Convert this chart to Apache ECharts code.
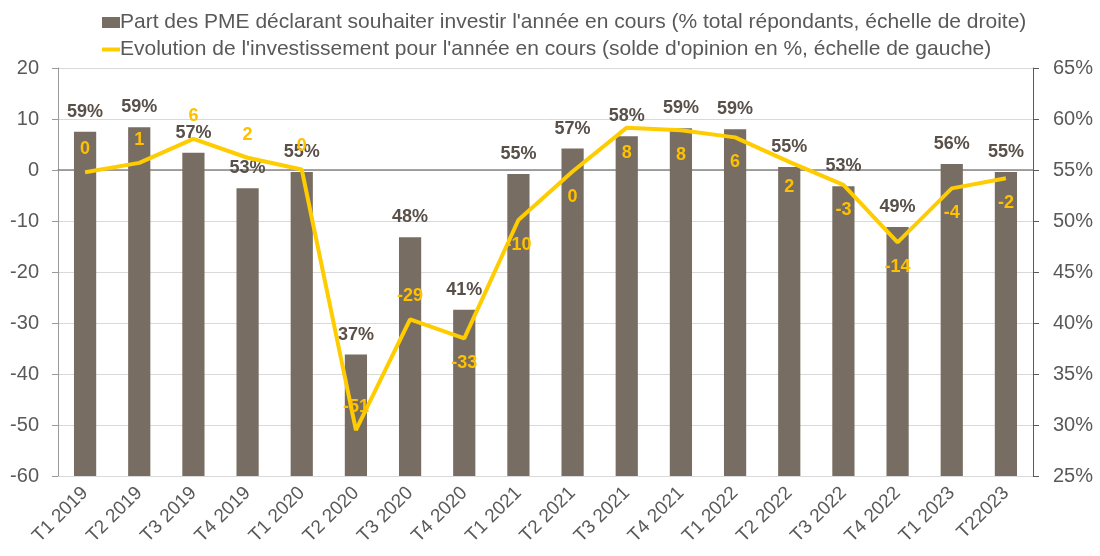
<!DOCTYPE html>
<html>
<head>
<meta charset="utf-8">
<script src="https://cdn.jsdelivr.net/npm/echarts@6/dist/echarts.min.js"></script>
<style>
  html, body { margin: 0; padding: 0; background: #fff; }
  .box { width: 1100px; height: 556px; }
</style>
</head>
<body>
<div class="box"></div>
<script>
// categories (trimestres)
var categories = ['T1 2019', 'T2 2019', 'T3 2019', 'T4 2019', 'T1 2020', 'T2 2020', 'T3 2020', 'T4 2020',
  'T1 2021', 'T2 2021', 'T3 2021', 'T4 2021', 'T1 2022', 'T2 2022', 'T3 2022', 'T4 2022', 'T1 2023', 'T22023'];
// part des PME (% , échelle de droite)
var partPME = [58.75, 59.2, 56.7, 53.2, 54.8, 36.9, 48.4, 41.3, 54.6, 57.1, 58.3, 59.1, 59.0, 55.3, 53.4, 49.4, 55.6, 54.8];
// solde d'opinion (%, échelle de gauche)
var solde = [-0.45, 1.4, 6.1, 2.4, 0.1, -51, -29.3, -33, -9.8, -0.3, 8.3, 7.8, 6.4, 1.6, -2.9, -14.2, -3.6, -1.6];

var leftTicks = { min: -60, max: 20, interval: 10 };
var rightTicks = { min: 25, max: 65, interval: 5 };

var barName = "Part des PME déclarant souhaiter investir l'année en cours (% total répondants, échelle de droite)";
var lineName = "Evolution de l'investissement pour l'année en cours (solde d'opinion en %, échelle de gauche)";

var fontFam = '"Liberation Sans", Arial, sans-serif';

var mychart = echarts.init(document.querySelector('.box'));

// étiquettes de la courbe : au-dessus pour les 7 premiers points, en dessous ensuite
var soldeData = solde.map(function (v, i) {
  return {
    value: v,
    label: { position: i < 7 ? 'top' : 'bottom', distance: i < 7 ? 14 : 16 }
  };
});

var option = {
  animation: false,
  textStyle: { fontFamily: fontFam },
  legend: {
    orient: 'vertical',
    left: 97,
    top: 7,
    itemGap: 6,
    itemWidth: 18,
    itemHeight: 11,
    symbolKeepAspect: true,
    textStyle: { color: '#595959', fontSize: 21, fontFamily: fontFam, padding: [0, 0, 0, -5] },
    data: [
      { name: barName, icon: 'rect' },
      { name: lineName, icon: 'path://M0,0 L18,0 L18,4 L0,4 Z' }
    ]
  },
  grid: { left: 58, right: 67, top: 68, bottom: 80 },
  xAxis: [
    {
      type: 'category',
      data: categories,
      axisLine: { show: true, onZero: false, lineStyle: { color: '#d9d9d9' } },
      axisTick: { show: false },
      axisLabel: {
        color: '#595959',
        fontSize: 19,
        rotate: 45,
        interval: 0,
        margin: 14,
        fontFamily: fontFam
      }
    },
    {
      // ligne du zéro
      type: 'category',
      data: categories,
      axisLine: { show: true, onZero: true, lineStyle: { color: '#868686', width: 1.5 } },
      axisTick: { show: false },
      axisLabel: { show: false }
    }
  ],
  yAxis: [
    {
      type: 'value',
      min: leftTicks.min,
      max: leftTicks.max,
      interval: leftTicks.interval,
      axisLine: { show: true, lineStyle: { color: '#9a9a9a' } },
      axisTick: { show: true, length: 6, lineStyle: { color: '#9a9a9a' } },
      axisLabel: { color: '#595959', fontSize: 20, margin: 19, fontFamily: fontFam },
      splitLine: { lineStyle: { color: '#d9d9d9' } }
    },
    {
      type: 'value',
      position: 'right',
      min: rightTicks.min,
      max: rightTicks.max,
      interval: rightTicks.interval,
      axisLine: { show: true, lineStyle: { color: '#625955' } },
      axisTick: { show: true, length: 6, lineStyle: { color: '#625955' } },
      axisLabel: { color: '#595959', fontSize: 20, margin: 20, formatter: '{value}%', fontFamily: fontFam },
      splitLine: { show: false }
    }
  ],
  series: [
    {
      name: barName,
      type: 'bar',
      yAxisIndex: 1,
      data: partPME,
      barWidth: '41%',
      itemStyle: { color: '#776d62' },
      label: {
        show: true,
        position: 'top',
        distance: 11,
        color: '#595049',
        fontSize: 18,
        fontWeight: 'bold',
        fontFamily: fontFam,
        formatter: function (p) { return Math.round(p.value) + '%'; }
      }
    },
    {
      name: lineName,
      type: 'line',
      yAxisIndex: 0,
      data: soldeData,
      symbol: 'circle',
      symbolSize: 0.1,
      lineStyle: { color: '#ffcc00', width: 4 },
      itemStyle: { color: '#ffcc00' },
      z: 3,
      label: {
        show: true,
        color: '#ffc000',
        fontSize: 18,
        fontWeight: 'bold',
        fontFamily: fontFam,
        formatter: function (p) { var r = Math.round(p.value); return String(r === 0 ? 0 : r); }
      }
    }
  ]
};

mychart.setOption(option);
window.addEventListener('resize', function () {
  mychart.resize();
});
</script>
</body>
</html>
